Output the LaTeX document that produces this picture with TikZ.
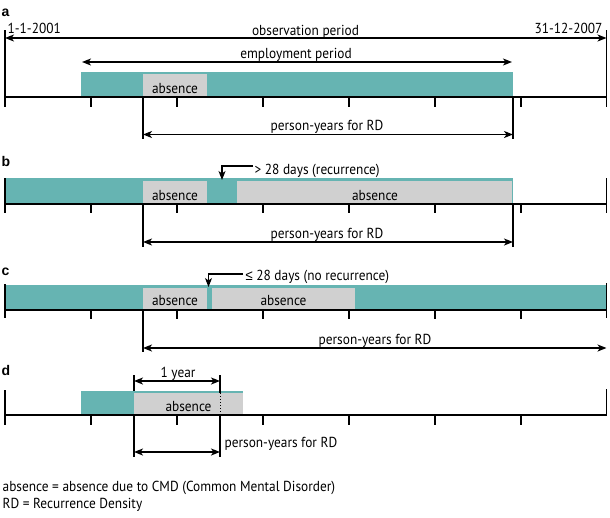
\documentclass[tikz,border=0pt]{standalone}
\usepackage{fontspec}
\setmainfont[FakeStretch=0.92]{PT Sans}
\newfontfamily\labfont{Liberation Sans}
\newfontfamily\symfont[FakeStretch=0.9]{Liberation Sans}
\usetikzlibrary{arrows.meta}
\definecolor{teal1}{RGB}{102,180,178}
\definecolor{gray1}{RGB}{208,208,208}
\begin{document}
\begin{tikzpicture}[x=1pt,y=-1pt, line width=1.3pt,
  tipend/.style={-{Stealth[length=9pt,width=7pt,inset=2.5pt]}},
  dbl/.style={{Stealth[length=9pt,width=7pt,inset=2.5pt]}-{Stealth[length=9pt,width=7pt,inset=2.5pt]}},
  txt/.style={font=\fontsize{14.5}{16}\selectfont, inner sep=0pt, anchor=base},
  panel/.style={font=\labfont\bfseries\fontsize{14}{16}\selectfont, inner sep=0pt, anchor=base west},
  endline/.style={line width=1.8pt},
  axis/.style={line width=1.4pt},
  tealbar/.style={fill=teal1, draw=none},
  graybar/.style={fill=gray1, draw=none},
]
\useasboundingbox (0,0) rectangle (610,517);

% ---------------- panel a ----------------
\node[panel] (la) at (1,16) {a};
\fill[tealbar] (81,72) rectangle (513,97);
\fill[graybar] (143,74) rectangle (207,97);
\node[txt] (abs-a) at (175,93.5) {absence};
\coordinate (aL) at (5,97); \coordinate (aR) at (606.5,97);
\draw[axis] (aL) -- (aR);
\foreach \x in {91,177,263,349,435,521} \draw (\x,97) -- (\x,107);
\coordinate (aLt) at (5,30); \coordinate (aLb) at (5,107);
\coordinate (aRt) at (606.5,30); \coordinate (aRb) at (606.5,107);
\draw[endline] (aLt) -- (aLb);
\draw[endline] (aRt) -- (aRb);
\coordinate (obsL) at (5,38); \coordinate (obsR) at (606.5,38);
\draw[dbl] (obsL) -- (obsR);
\node[txt] (obs) at (305.5,35) {observation period};
\node[txt, anchor=base west] (d1) at (7,33) {1-1-2001};
\node[txt, anchor=base east] (d2) at (603,33) {31-12-2007};
\coordinate (empL) at (82,62); \coordinate (empR) at (512,62);
\draw[dbl] (empL) -- (empR);
\node[txt] (emp) at (296,58.5) {employment period};
\coordinate (pa1t) at (143,97); \coordinate (pa1b) at (143,139);
\coordinate (pa2t) at (513,97); \coordinate (pa2b) at (513,139);
\draw (pa1t) -- (pa1b);
\draw (pa2t) -- (pa2b);
\coordinate (paL) at (143,134.5); \coordinate (paR) at (513,134.5);
\draw[dbl] (paL) -- (paR);
\node[txt] (pya) at (327,130.5) {person-years for RD};

% ---------------- panel b ----------------
\node[panel] (lb) at (1,166) {b};
\fill[tealbar] (5,178) rectangle (513,204);
\fill[graybar] (143,181) rectangle (207,204);
\fill[graybar] (237,181) rectangle (512,204);
\node[txt] (abs-b1) at (175,200.5) {absence};
\node[txt] (abs-b2) at (375,200.5) {absence};
\coordinate (bL) at (5,204); \coordinate (bR) at (606.5,204);
\draw[axis] (bL) -- (bR);
\foreach \x in {91,177,263,349,435,521} \draw (\x,204) -- (\x,213);
\coordinate (bLt) at (5,178); \coordinate (bLb) at (5,213);
\coordinate (bRt) at (606.5,178); \coordinate (bRb) at (606.5,213);
\draw[endline] (bLt) -- (bLb);
\draw[endline] (bRt) -- (bRb);
\node[txt, anchor=base west] (rec) at (254,174) {> 28 days (recurrence)};
\coordinate (cb1) at (253,166); \coordinate (cb2) at (222,166); \coordinate (cb3) at (222,180);
\draw[tipend, line width=1.1pt] (cb1) -- (cb2) -- (cb3);
\coordinate (pb1t) at (143,204); \coordinate (pb1b) at (143,247);
\coordinate (pb2t) at (513,204); \coordinate (pb2b) at (513,247);
\draw (pb1t) -- (pb1b);
\draw (pb2t) -- (pb2b);
\coordinate (pbL) at (143,242); \coordinate (pbR) at (513,242);
\draw[dbl] (pbL) -- (pbR);
\node[txt] (pyb) at (327,238) {person-years for RD};

% ---------------- panel c ----------------
\node[panel] (lc) at (1,275) {c};
\fill[tealbar] (5,284.5) rectangle (606.5,310);
\fill[graybar] (143,288) rectangle (207,310);
\fill[graybar] (211.5,288) rectangle (355,310);
\node[txt] (abs-c1) at (175,305.5) {absence};
\node[txt] (abs-c2) at (283.5,305.5) {absence};
\coordinate (cL) at (5,310); \coordinate (cR) at (606.5,310);
\draw[axis] (cL) -- (cR);
\foreach \x in {91,177,263,349,435,521} \draw (\x,310) -- (\x,319);
\coordinate (cLt) at (5,284); \coordinate (cLb) at (5,318);
\coordinate (cRt) at (606.5,283); \coordinate (cRb) at (606.5,318);
\draw[endline] (cLt) -- (cLb);
\draw[endline] (cRt) -- (cRb);
\node[txt, anchor=base west] (norec) at (245,280) {{\symfont ≤} 28 days (no recurrence)};
\coordinate (cc1) at (243,274); \coordinate (cc2) at (208.5,274); \coordinate (cc3) at (208.5,287);
\draw[tipend, line width=1.1pt] (cc1) -- (cc2) -- (cc3);
\coordinate (pc1t) at (143,310); \coordinate (pc1b) at (143,352);
\draw (pc1t) -- (pc1b);
\coordinate (pcL) at (143,348); \coordinate (pcR) at (606.5,348);
\draw[dbl] (pcL) -- (pcR);
\node[txt] (pyc) at (375,344) {person-years for RD};

% ---------------- panel d ----------------
\node[panel] (ld) at (1,375) {d};
\fill[tealbar] (81,390.5) rectangle (243,415);
\fill[graybar] (134,393) rectangle (243,415);
\node[txt] (abs-d) at (188.5,411.5) {absence};
\coordinate (dL) at (5,415); \coordinate (dR) at (606.5,415);
\draw[axis] (dL) -- (dR);
\foreach \x in {91,177,263,349,435,521} \draw (\x,415) -- (\x,425);
\coordinate (dLt) at (5,390); \coordinate (dLb) at (5,425);
\coordinate (dRt) at (606.5,389); \coordinate (dRb) at (606.5,416);
\draw[endline] (dLt) -- (dLb);
\draw[endline] (dRt) -- (dRb);
\coordinate (v1t) at (134,375); \coordinate (v1m) at (134,390.5);
\coordinate (v1n) at (134,415); \coordinate (v1b) at (134,457);
\draw (v1t) -- (v1m);
\draw (v1n) -- (v1b);
\coordinate (v2t) at (220,375); \coordinate (v2m) at (220,393);
\coordinate (v2n) at (220,415); \coordinate (v2b) at (220,457);
\draw (v2t) -- (v2m);
\draw[line width=1pt, dotted] (v2m) -- (v2n);
\draw (v2n) -- (v2b);
\coordinate (yL) at (134,381); \coordinate (yR) at (220,381);
\draw[dbl] (yL) -- (yR);
\node[txt] (yr) at (178,377) {1 year};
\coordinate (pdL) at (134,452); \coordinate (pdR) at (220,452);
\draw[dbl] (pdL) -- (pdR);
\node[txt, anchor=base west] (pyd) at (224,447.5) {person-years for RD};

% ---------------- legend ----------------
\node[txt, anchor=base west] (leg1) at (2,491) {absence = absence due to CMD (Common Mental Disorder)};
\node[txt, anchor=base west] (leg2) at (2,508.5) {RD = Recurrence Density};
\end{tikzpicture}
\end{document}
